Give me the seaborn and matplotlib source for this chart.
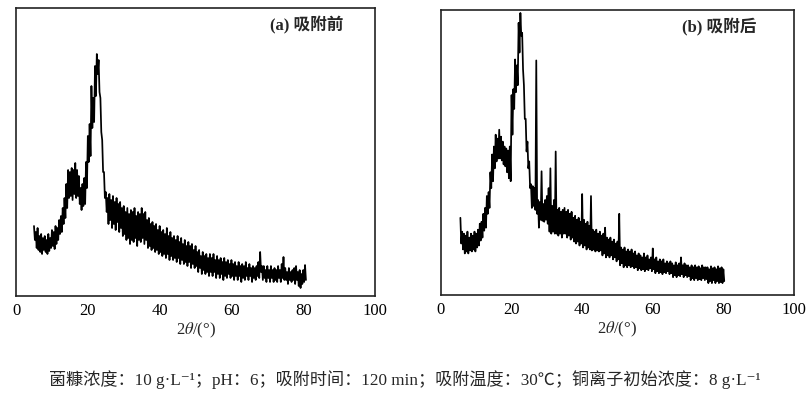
import numpy as np
import pandas as pd
import matplotlib
matplotlib.use("Agg")
import matplotlib.pyplot as plt
import seaborn as sns

# ---- data (arbitrary intensity units) ----
# Each noisy trace is given as the upper and lower edge of the noise band,
# read every 0.5 degrees.
start_a, step_a = 5.0, 0.5
upper_a = [
    70, 64, 68, 60, 62, 58, 60, 56, 62, 58, 66, 64, 70, 68, 76, 80, 88, 98, 112, 126,
    124, 128, 126, 133, 126, 120, 108, 112, 118, 134, 160, 172, 210, 198, 230, 242, 236, 198, 156, 124,
    104, 98, 102, 96, 100, 94, 98, 92, 94, 88, 90, 84, 88, 82, 86, 84, 88, 80, 84, 82,
    88, 82, 84, 76, 78, 72, 74, 70, 72, 66, 70, 64, 66, 62, 68, 60, 64, 58, 60, 56,
    60, 54, 58, 52, 56, 50, 54, 50, 52, 46, 50, 44, 46, 40, 44, 40, 42, 38, 42, 38,
    42, 36, 40, 36, 38, 34, 38, 34, 36, 32, 36, 32, 34, 30, 34, 30, 32, 30, 34, 28,
    32, 28, 30, 28, 30, 34, 44, 30, 30, 26, 30, 26, 30, 26, 28, 26, 30, 26, 32, 39,
    28, 24, 28, 24, 26, 28, 30, 24, 26, 22, 26, 31,
]
lower_a = [
    56, 48, 46, 44, 42, 46, 44, 42, 45, 48, 50, 47, 52, 56, 62, 64, 72, 78, 88, 98,
    100, 96, 102, 98, 100, 92, 86, 90, 92, 108, 134, 140, 168, 174, 200, 222, 204, 164, 124, 98,
    84, 72, 76, 68, 72, 66, 74, 64, 68, 60, 62, 56, 58, 52, 56, 54, 58, 50, 56, 54,
    58, 52, 56, 48, 50, 46, 48, 44, 46, 42, 44, 40, 42, 38, 42, 36, 40, 36, 38, 34,
    38, 32, 36, 32, 34, 30, 34, 28, 32, 28, 30, 24, 28, 22, 26, 22, 24, 20, 24, 20,
    24, 18, 22, 18, 22, 16, 20, 18, 22, 18, 20, 16, 20, 16, 20, 14, 18, 16, 20, 16,
    20, 14, 18, 16, 20, 18, 24, 16, 18, 14, 18, 14, 18, 14, 16, 14, 18, 14, 18, 16,
    16, 12, 16, 14, 16, 12, 16, 10, 8, 12, 14, 16,
]
start_b, step_b = 5.5, 0.5
upper_b = [
    78, 64, 62, 60, 64, 58, 62, 60, 64, 62, 66, 72, 74, 82, 88, 100, 104, 124, 142, 150,
    162, 158, 167, 160, 155, 150, 148, 146, 150, 202, 208, 238, 232, 275, 285, 265, 212, 178, 155, 135,
    112, 110, 108, 237, 96, 94, 125, 92, 96, 100, 108, 128, 90, 96, 145, 86, 88, 84, 86, 88,
    84, 86, 82, 84, 78, 80, 76, 78, 74, 102, 76, 72, 74, 70, 100, 66, 64, 66, 62, 64,
    60, 62, 68, 58, 56, 58, 54, 56, 52, 54, 82, 48, 46, 48, 44, 46, 44, 46, 42, 44,
    40, 42, 40, 38, 42, 38, 40, 36, 38, 47, 36, 38, 34, 36, 34, 36, 32, 34, 32, 34,
    32, 30, 33, 30, 32, 38, 30, 32, 30, 30, 28, 30, 28, 30, 28, 29, 27, 30, 28, 28,
    28, 26, 29, 27, 28, 26, 29, 27, 28, 26,
]
lower_b = [
    52, 46, 42, 44, 42, 45, 44, 46, 44, 48, 50, 55, 58, 65, 68, 82, 88, 108, 115, 128,
    135, 138, 138, 136, 132, 130, 124, 118, 115, 162, 188, 205, 212, 245, 262, 228, 178, 145, 128, 108,
    88, 90, 86, 82, 68, 76, 75, 74, 76, 72, 64, 62, 64, 62, 62, 60, 62, 58, 62, 62,
    58, 60, 56, 58, 54, 52, 54, 50, 52, 48, 50, 46, 48, 46, 45, 46, 44, 45, 44, 45,
    40, 42, 38, 40, 38, 40, 36, 38, 34, 36, 30, 32, 28, 30, 28, 30, 28, 29, 27, 28,
    25, 27, 25, 26, 24, 26, 25, 27, 24, 26, 22, 24, 22, 23, 21, 23, 22, 24, 21, 22,
    18, 20, 18, 20, 19, 21, 18, 20, 18, 19, 15, 17, 15, 17, 15, 16, 15, 17, 15, 16,
    12, 14, 12, 15, 12, 14, 12, 13, 12, 14,
]
panel_labels = ["(a) 吸附前", "(b) 吸附后"]
x_ticks = [0, 20, 40, 60, 80, 100]
x_label = r"2$\theta$/(°)"
caption = "菌糠浓度：10 g·L⁻¹；pH：6；吸附时间：120 min；吸附温度：30℃；铜离子初始浓度：8 g·L⁻¹"


def band_trace(start, step, upper, lower):
    n = min(len(upper), len(lower))
    vals = np.column_stack([upper[:n], lower[:n]]).ravel()
    angle = start + (step / 2) * np.arange(len(vals))
    return pd.DataFrame({"angle": angle, "intensity": vals})


df_a = band_trace(start_a, step_a, upper_a, lower_a)
df_b = band_trace(start_b, step_b, upper_b, lower_b)

sns.set_style("white")
plt.rcParams["font.family"] = ["Liberation Serif", "Noto Sans CJK SC", "DejaVu Sans"]
plt.rcParams["mathtext.fontset"] = "stix"

fig = plt.figure(figsize=(8.1, 3.95), dpi=100)
ax_a = fig.add_axes([0.0198, 0.2506, 0.4432, 0.7291])
ax_b = fig.add_axes([0.5444, 0.2532, 0.4358, 0.7215])

for ax, df, lab, lx in [(ax_a, df_a, panel_labels[0], 0.707), (ax_b, df_b, panel_labels[1], 0.683)]:
    sns.lineplot(data=df, x="angle", y="intensity", ax=ax, color="black", lw=1.25, sort=False)
    ax.set_xlim(0, 100)
    ax.set_ylim(0, 288)
    ax.set_yticks([])
    ax.set_ylabel("")
    ax.set_xticks(x_ticks)
    ax.set_xticklabels([str(t) for t in x_ticks])
    ax.tick_params(axis="x", direction="in", length=8, width=1, labelsize=12, pad=5, colors="black")
    ax.set_xlabel(x_label, fontsize=12, labelpad=1)
    for s in ax.spines.values():
        s.set_color("#222222")
        s.set_linewidth(1.2)
    ax.text(lx, 0.94, lab, transform=ax.transAxes, fontsize=12, fontweight="bold",
            ha="left", va="center")

fig.text(0.5, 0.038, caption, ha="center", va="center", fontsize=12.3)

fig.savefig("out.png", dpi=100)
